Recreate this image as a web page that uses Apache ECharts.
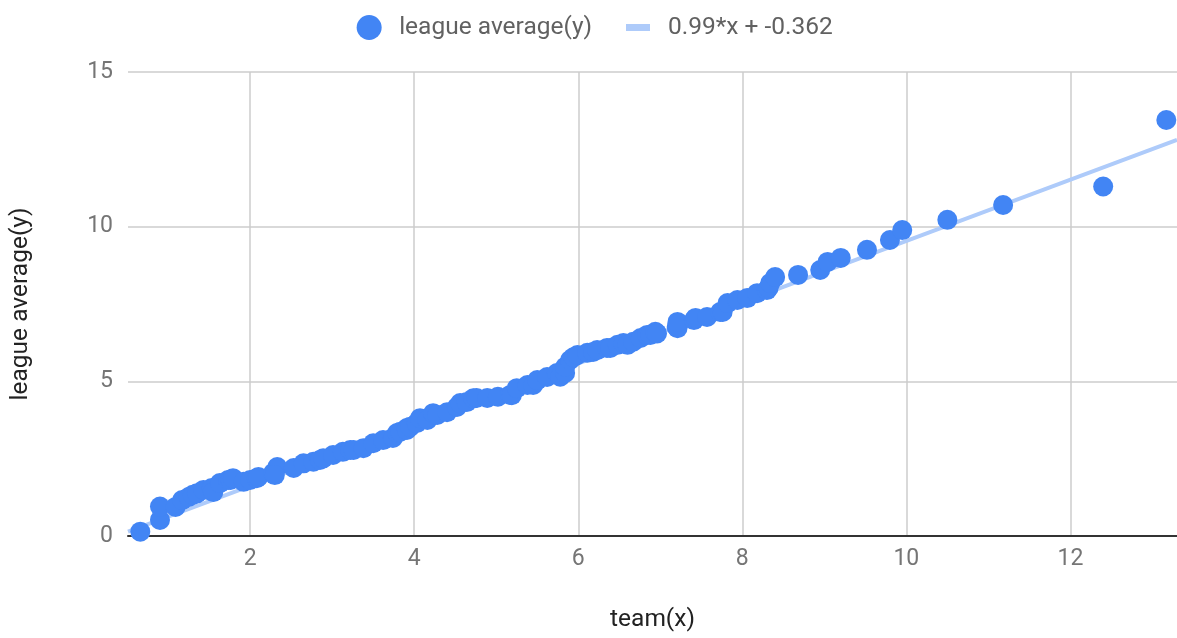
<!DOCTYPE html>
<html><head><meta charset="utf-8">
<script src="https://cdn.jsdelivr.net/npm/echarts@6/dist/echarts.min.js"></script>
<style>html,body{margin:0;padding:0;background:#fff}#c{width:1177px;height:638px}</style>
</head><body><div id="c"></div>
<script>
const teamX = [0.66,0.90,0.90,1.09,1.17,1.25,1.30,1.35,1.43,1.53,1.55,1.63,1.73,1.76,1.79,1.92,2.00,2.08,2.10,2.28,2.33,2.30,2.53,2.65,2.77,2.85,2.89,3.01,3.13,3.22,3.26,3.38,3.50,3.62,3.74,3.79,3.83,3.91,3.91,3.95,
  4.03,4.07,4.16,4.23,4.28,4.40,4.52,4.56,4.64,4.72,4.76,4.89,5.02,5.17,5.19,5.25,5.38,5.45,5.50,5.62,5.74,5.78,5.84,5.84,5.90,5.94,5.99,6.11,6.18,6.23,6.35,6.39,6.48,6.55,6.60,6.67,6.76,6.84,6.88,6.94,6.96,
  7.20,7.21,7.21,7.41,7.43,7.57,7.73,7.76,7.82,7.94,8.06,8.18,8.30,8.32,8.34,8.40,8.68,8.95,9.04,9.20,9.52,9.80,9.95,10.50,11.18,12.40,13.17];
const leagueY = [0.14,0.52,0.95,0.94,1.16,1.26,1.33,1.38,1.49,1.55,1.42,1.71,1.81,1.81,1.87,1.75,1.81,1.87,1.91,2.04,2.23,1.97,2.20,2.35,2.40,2.46,2.51,2.62,2.72,2.78,2.78,2.84,3.00,3.10,3.17,3.33,3.37,3.49,3.43,3.53,
  3.65,3.81,3.75,3.97,3.91,4.00,4.17,4.30,4.33,4.45,4.46,4.46,4.50,4.56,4.55,4.78,4.88,4.88,5.04,5.14,5.27,5.15,5.27,5.47,5.69,5.78,5.85,5.92,5.95,6.01,6.08,6.08,6.18,6.24,6.18,6.28,6.40,6.50,6.50,6.60,6.55,
  6.76,6.72,6.92,6.98,7.05,7.08,7.24,7.24,7.53,7.63,7.69,7.85,7.95,8.02,8.18,8.37,8.44,8.60,8.86,8.99,9.25,9.57,9.89,10.22,10.70,11.30,13.45];
const trendSlope = 0.99, trendIntercept = -0.362;
const xRange = [0.51, 13.3];
const yTicks = [0, 5, 10, 15];
const seriesNames = ['league average(y)', '0.99*x + -0.362'];

const points = teamX.map((x, i) => [x, leagueY[i]]);
const trend = xRange.map(x => [x, trendSlope * x + trendIntercept]);

const chart = echarts.init(document.getElementById('c'));
const font = 'Roboto, Arial, sans-serif';
const circleIcon = 'path://M0,0 M50,25 M12.5,12.5 A12.5,12.5 0 1,1 37.5,12.5 A12.5,12.5 0 1,1 12.5,12.5 Z';
const lineIcon = 'path://M0,0 M50,25 M13,9 L37,9 L37,16 L13,16 Z';
chart.setOption({
  animation: false,
  textStyle: { fontFamily: font },
  grid: { left: 128, right: 0, top: 72, bottom: 102 },
  legend: {
    top: 10, left: 'center',
    itemWidth: 50, itemHeight: 25, itemGap: 21,
    textStyle: { fontSize: 24.5, color: '#616161', fontFamily: font },
    data: [
      { name: seriesNames[0], icon: circleIcon, itemStyle: { color: '#4285F4' } },
      { name: seriesNames[1], icon: lineIcon, itemStyle: { color: '#AECBFA' } }
    ]
  },
  xAxis: {
    type: 'value', min: xRange[0], max: xRange[1],
    minInterval: 2, maxInterval: 2,
    name: 'team(x)', nameLocation: 'middle', nameGap: 71,
    nameTextStyle: { fontSize: 24.5, color: '#222', fontFamily: font },
    axisLine: { show: true, lineStyle: { color: '#333', width: 2 } },
    axisTick: { show: false },
    axisLabel: { fontSize: 23, color: '#757575', margin: 12, showMinLabel: false, showMaxLabel: false, fontFamily: font },
    splitLine: { show: true, showMinLine: false, showMaxLine: false, lineStyle: { color: '#cccccc', width: 1.5 } }
  },
  yAxis: {
    type: 'value', min: yTicks[0], max: yTicks[yTicks.length - 1], interval: 5,
    name: 'league average(y)', nameLocation: 'middle', nameGap: 95,
    nameTextStyle: { fontSize: 24.5, color: '#222', fontFamily: font },
    axisLine: { show: false }, axisTick: { show: false },
    axisLabel: { fontSize: 23, color: '#757575', margin: 15, fontFamily: font },
    splitLine: { show: true, lineStyle: { color: '#cccccc', width: 1.5 } }
  },
  series: [
    {
      name: seriesNames[0], type: 'scatter', data: points, z: 3,
      symbolSize: 20, itemStyle: { color: '#4285F4', opacity: 1 }
    },
    {
      name: seriesNames[1], type: 'line', data: trend, z: 2,
      symbol: 'none', lineStyle: { color: '#AECBFA', width: 4 }, itemStyle: { color: '#AECBFA' }
    }
  ]
});
</script></body></html>
